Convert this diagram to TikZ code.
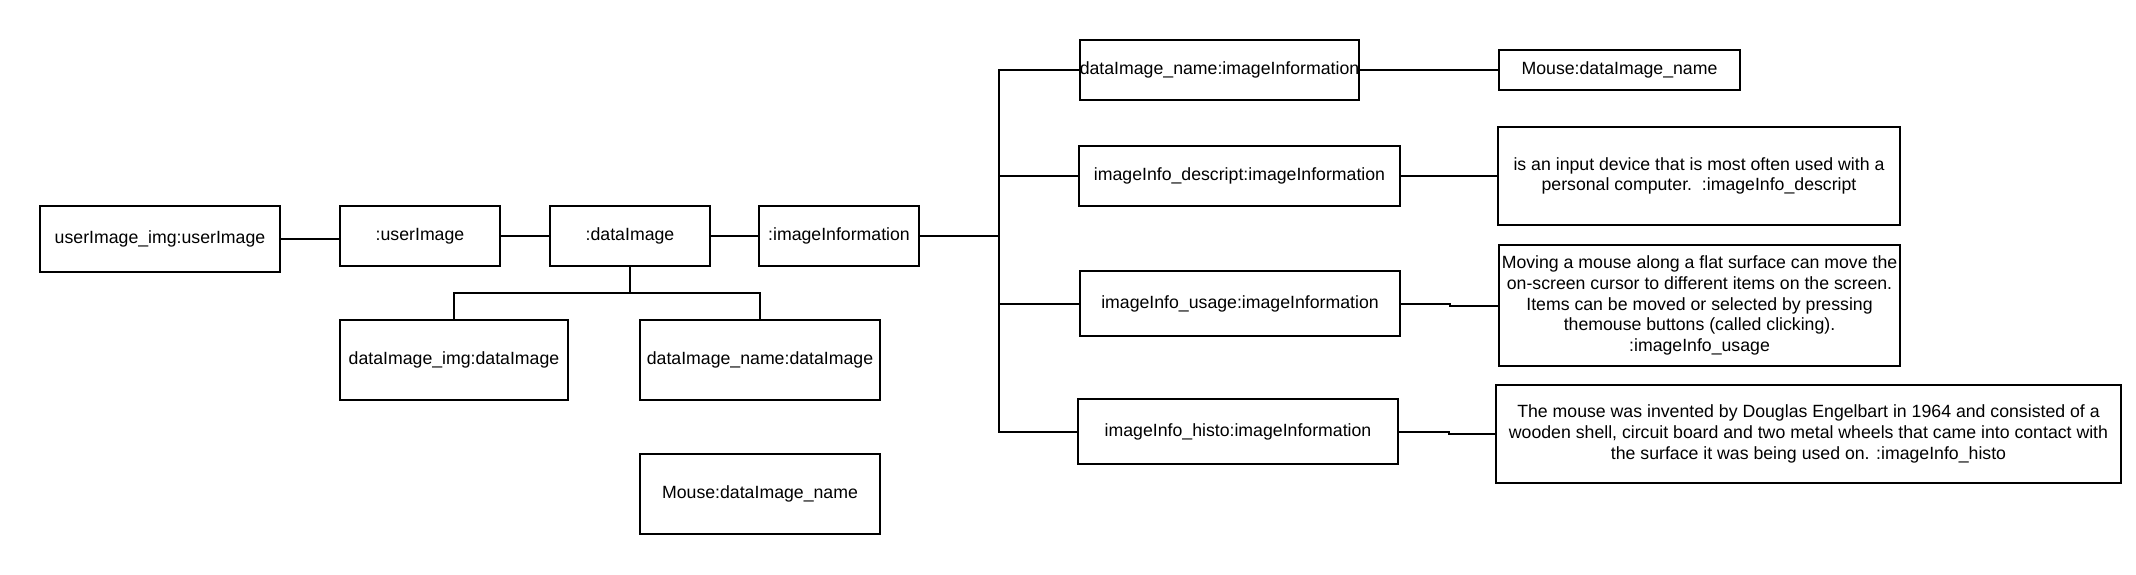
\documentclass[tikz,border=0pt]{standalone}
\usepackage{fontspec}
\setmainfont{Liberation Sans}
\tikzset{
  objbox/.style={draw, line width=1pt, inner sep=0pt, align=center,
    font=\fontsize{8.85}{10.4}\selectfont},
  link/.style={line width=1pt}
}
\begin{document}
\begin{tikzpicture}[x=0.5pt, y=-0.5pt]
        \useasboundingbox (0,0) rectangle (2136,574);

        \node[objbox, minimum width=120pt, minimum height=33pt] (uimg) at (160,239) {userImage\_img:userImage};
        \node[objbox, minimum width=80pt, minimum height=30pt] (uimage) at (420,236) {:userImage};
        \node[objbox, minimum width=80pt, minimum height=30pt] (dimage) at (630,236) {:dataImage};
        \node[objbox, minimum width=80pt, minimum height=30pt] (iinfo) at (839,236) {:imageInformation};

        \node[objbox, minimum width=114pt, minimum height=40pt] (dimg) at (454,360) {dataImage\_img:dataImage};
        \node[objbox, minimum width=120pt, minimum height=40pt] (dname) at (760,360) {dataImage\_name:dataImage};
        \node[objbox, minimum width=120pt, minimum height=40pt] (mousea) at (760,494) {Mouse:dataImage\_name};

        \node[objbox, minimum width=139.5pt, minimum height=30pt] (nameinfo) at (1219.5,70) {dataImage\_name:imageInformation};
        \node[objbox, minimum width=160.5pt, minimum height=30pt] (descinfo) at (1239.5,176) {imageInfo\_descript:imageInformation};
        \node[objbox, minimum width=160pt, minimum height=32.5pt] (usageinfo) at (1240,303.5) {imageInfo\_usage:imageInformation};
        \node[objbox, minimum width=160pt, minimum height=32.5pt] (histoinfo) at (1238,431.5) {imageInfo\_histo:imageInformation};

        \node[objbox, minimum width=120.5pt, minimum height=20pt] (mouseb) at (1619.5,70) {Mouse:dataImage\_name};
        \node[objbox, minimum width=201pt, minimum height=49pt] (desctext) at (1699,176)
          {is an input device that is most often used with a\\ personal computer.\ \ :imageInfo\_descript};
        \node[objbox, minimum width=200.5pt, minimum height=60.5pt] (usagetext) at (1699.5,305.5)
          {Moving a mouse along a flat surface can move the\\ on-screen cursor to different items on the screen.\\
           Items can be moved or selected by pressing\\ themouse buttons (called clicking).\\ :imageInfo\_usage};
        \node[objbox, minimum width=312.5pt, minimum height=49pt] (histotext) at (1808.5,434)
          {The mouse was invented by Douglas Engelbart in 1964 and consisted of a\\
           wooden shell, circuit board and two metal wheels that came into contact with\\
           the surface it was being used on. :imageInfo\_histo};

        \coordinate (split) at (630,293);
        \coordinate (bus) at (998.6,236);

        \draw[link] (uimg.east) -- (uimg.east -| uimage.west);
        \draw[link] (uimage.east) -- (dimage.west);
        \draw[link] (dimage.east) -- (iinfo.west);

        \draw[link] (dimage.south) -- (split) -| (dimg.north);
        \draw[link] (split) -| (dname.north);

        \draw[link] (iinfo.east) -- (bus) |- (nameinfo.west);
        \draw[link] (bus) |- (descinfo.west);
        \draw[link] (bus) |- (usageinfo.west);
        \draw[link] (bus) |- (histoinfo.west);

        \draw[link] (nameinfo.east) -- (mouseb.west);
        \draw[link] (descinfo.east) -- (desctext.west);
        \draw[link] (usageinfo.east) -- ++(49,0) |- (usagetext.west);
        \draw[link] (histoinfo.east) -- ++(50,0) |- (histotext.west);
      \end{tikzpicture}
\end{document}
